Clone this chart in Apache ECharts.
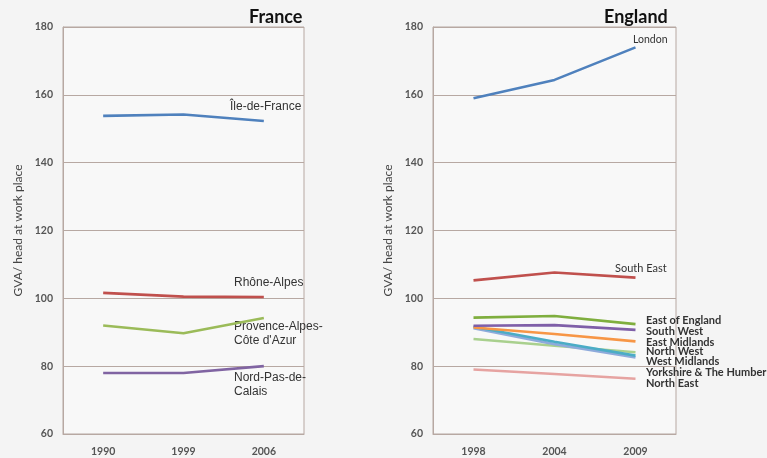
<!DOCTYPE html>
<html><head><meta charset="utf-8">
<script src="https://cdn.jsdelivr.net/npm/echarts@6/dist/echarts.min.js"></script>
<style>html,body{margin:0;padding:0;background:#f4f4f4;}#c{width:767px;height:458px;}</style>
</head><body><div id="c"></div>
<script>
const franceYears = ['1990','1999','2006'];
const englandYears = ['1998','2004','2009'];
const yTicks = [60, 80, 100, 120, 140, 160, 180];

const ileDeFrance = [153.8, 154.2, 152.3];
const rhoneAlpes = [101.6, 100.5, 100.4];
const provence = [92.0, 89.7, 94.2];
const nordPasDeCalais = [78.0, 78.0, 80.0];

const london = [159.0, 164.4, 174.0];
const southEast = [105.3, 107.6, 106.1];
const eastOfEngland = [94.3, 94.8, 92.4];
const southWest = [91.9, 92.1, 90.7];
const eastMidlands = [91.4, 89.5, 87.3];
const northWest = [88.0, 86.0, 84.1];
const westMidlands = [91.6, 87.2, 83.1];
const yorkshire = [91.2, 86.5, 82.6];
const northEast = [79.0, 77.7, 76.3];

const chart = echarts.init(document.getElementById('c'));
const lineColor = '#b7a8a2';
function yAxis(gi){
  return {type:'value', gridIndex:gi, min:yTicks[0], max:yTicks[yTicks.length-1], interval:20,
    name:'GVA/ head at work place', nameLocation:'middle', nameGap:39, nameRotate:90,
    nameTextStyle:{fontFamily:'Lato', fontSize:12, color:'#444'},
    axisLine:{show:true, lineStyle:{color:lineColor}}, axisTick:{show:false},
    axisLabel:{margin:10, fontFamily:'Lato', fontWeight:'bold', fontSize:10.5, color:'#555'},
    splitLine:{show:true, lineStyle:{color:lineColor, width:1}}};
}
function xAxis(gi, cats){
  return {type:'category', gridIndex:gi, data:cats, boundaryGap:true,
    axisLine:{show:true, lineStyle:{color:lineColor}}, axisTick:{show:false},
    axisLabel:{margin:12, fontFamily:'Lato', fontWeight:'bold', fontSize:10.5, color:'#555'}};
}
function ser(name, gi, data, color){
  return {name, type:'line', xAxisIndex:gi, yAxisIndex:gi, data, symbol:'none',
    lineStyle:{color, width:2.6}, itemStyle:{color}, silent:true, animation:false};
}
function lbl(text, x, y, font, fill){
  return {type:'text', x, y, silent:true,
    style:{text, x:0, y:0, font, fill:fill||'#333', textVerticalAlign:'middle', verticalAlign:'middle'}};
}
const fFont = '12px "Liberation Sans"';
const eFont = 'bold 11px Lato';
chart.setOption({
  animation:false,
  backgroundColor:'#f4f4f4',
  grid:[
    {left:63, width:241, top:27, bottom:24, show:true, borderColor:lineColor, borderWidth:1, backgroundColor:'#f8f8f8'},
    {left:433, width:243, top:27, bottom:24, show:true, borderColor:lineColor, borderWidth:1, backgroundColor:'#f8f8f8'}
  ],
  xAxis:[xAxis(0, franceYears), xAxis(1, englandYears)],
  yAxis:[yAxis(0), yAxis(1)],
  series:[
    ser('Île-de-France',0,ileDeFrance,'#4f81bd'),
    ser('Rhône-Alpes',0,rhoneAlpes,'#c0504d'),
    ser('Provence-Alpes-Côte d\'Azur',0,provence,'#9bbb59'),
    ser('Nord-Pas-de-Calais',0,nordPasDeCalais,'#8064a2'),
    ser('London',1,london,'#4f81bd'),
    ser('South East',1,southEast,'#c0504d'),
    ser('North East',1,northEast,'#e6a3a1'),
    ser('North West',1,northWest,'#a9d08e'),
    ser('Yorkshire & The Humber',1,yorkshire,'#8eaadb'),
    ser('West Midlands',1,westMidlands,'#4bacc6'),
    ser('East Midlands',1,eastMidlands,'#f79646'),
    ser('South West',1,southWest,'#7f5fa8'),
    ser('East of England',1,eastOfEngland,'#7fae3e')
  ],
  graphic:[
    lbl('France', 249, 17, 'bold 18px Lato', '#111'),
    lbl('England', 604, 17, 'bold 18px Lato', '#111'),
    lbl('Île-de-France', 230, 107, fFont),
    lbl('Rhône-Alpes', 234, 283, fFont),
    lbl('Provence-Alpes-', 234, 327, fFont),
    lbl('Côte d\'Azur', 234, 341, fFont),
    lbl('Nord-Pas-de-', 234, 378, fFont),
    lbl('Calais', 234, 392, fFont),
    lbl('London', 633, 40, '10.5px Lato'),
    lbl('South East', 615, 268, '11px Lato'),
    lbl('East of England', 646, 320, eFont),
    lbl('South West', 646, 331, eFont),
    lbl('East Midlands', 646, 342, eFont),
    lbl('North West', 646, 351.5, eFont),
    lbl('West Midlands', 646, 361.5, eFont),
    lbl('Yorkshire & The Humber', 646, 372, eFont),
    lbl('North East', 646, 383, eFont)
  ]
});
</script></body></html>
